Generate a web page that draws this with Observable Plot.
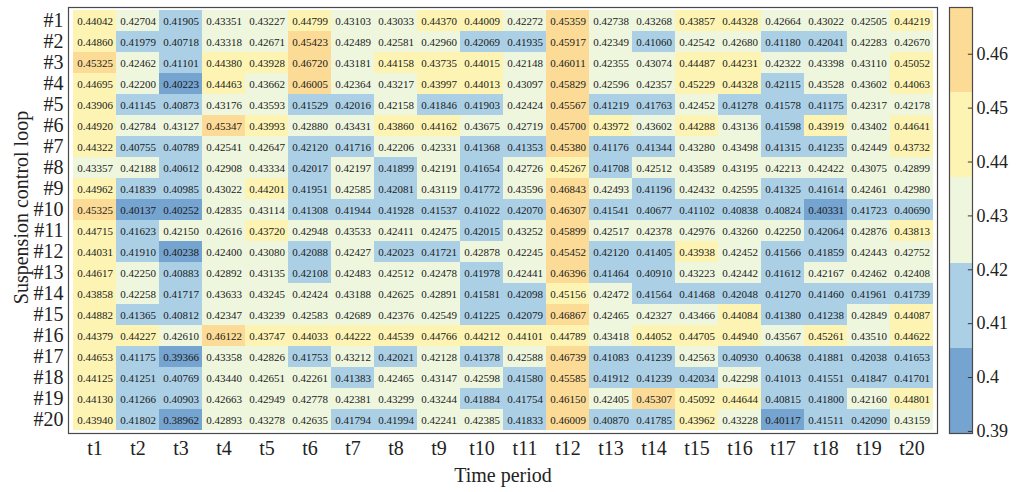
<!DOCTYPE html>
<html>
<head>
<meta charset="utf-8">
<script src="https://cdn.jsdelivr.net/npm/d3@7"></script>
<script src="https://cdn.jsdelivr.net/npm/@observablehq/plot@0.6"></script>
<style>
  html, body { margin: 0; padding: 0; background: #fff; }
  #chart { position: relative; width: 1016px; height: 492px; font-family: "Liberation Serif", "Times New Roman", serif; }
  #chart svg { position: absolute; top: 0; overflow: visible; }
</style>
</head>
<body>
<div id="chart"></div>
<script>
// Time periods (columns) and suspension control loops (rows)
const periods = ["t1","t2","t3","t4","t5","t6","t7","t8","t9","t10",
                 "t11","t12","t13","t14","t15","t16","t17","t18","t19","t20"];
const loops = ["#1","#2","#3","#4","#5","#6","#7","#8","#9","#10",
               "#11","#12","#13","#14","#15","#16","#17","#18","#19","#20"];

// One row per loop, one value per time period
const values = [
  [0.44042,0.42704,0.41905,0.43351,0.43227,0.44799,0.43103,0.43033,0.44370,0.44009,0.42272,0.45359,0.42738,0.43268,0.43857,0.44328,0.42664,0.43022,0.42505,0.44219],
  [0.44860,0.41979,0.40718,0.43318,0.42671,0.45423,0.42489,0.42581,0.42960,0.42069,0.41935,0.45917,0.42349,0.41060,0.42542,0.42680,0.41180,0.42041,0.42283,0.42670],
  [0.45325,0.42462,0.41101,0.44380,0.43928,0.46720,0.43181,0.44158,0.43735,0.44015,0.42148,0.46011,0.42355,0.43074,0.44487,0.44231,0.42322,0.43398,0.43110,0.45052],
  [0.44695,0.42200,0.40223,0.44463,0.43662,0.46005,0.42364,0.43217,0.43997,0.44013,0.43097,0.45829,0.42596,0.42357,0.45229,0.44328,0.42115,0.43528,0.43602,0.44063],
  [0.43906,0.41145,0.40873,0.43176,0.43593,0.41529,0.42016,0.42158,0.41846,0.41903,0.42424,0.45567,0.41219,0.41763,0.42452,0.41278,0.41578,0.41175,0.42317,0.42178],
  [0.44920,0.42784,0.43127,0.45347,0.43993,0.42880,0.43431,0.43860,0.44162,0.43675,0.42719,0.45700,0.43972,0.43602,0.44288,0.43136,0.41598,0.43919,0.43402,0.44641],
  [0.44322,0.40755,0.40789,0.42541,0.42647,0.42120,0.41716,0.42206,0.42331,0.41368,0.41353,0.45380,0.41176,0.41344,0.43280,0.43498,0.41315,0.41235,0.42449,0.43732],
  [0.43357,0.42188,0.40612,0.42908,0.43334,0.42017,0.42197,0.41899,0.42191,0.41654,0.42726,0.45267,0.41708,0.42512,0.43589,0.43195,0.42213,0.42422,0.43075,0.42899],
  [0.44962,0.41839,0.40985,0.43022,0.44201,0.41951,0.42585,0.42081,0.43119,0.41772,0.43596,0.46843,0.42493,0.41196,0.42432,0.42595,0.41325,0.41614,0.42461,0.42980],
  [0.45325,0.40137,0.40252,0.42835,0.43114,0.41308,0.41944,0.41928,0.41537,0.41022,0.42070,0.46307,0.41541,0.40677,0.41102,0.40838,0.40824,0.40331,0.41723,0.40690],
  [0.44715,0.41623,0.42150,0.42616,0.43720,0.42948,0.43533,0.42411,0.42475,0.42015,0.43252,0.45899,0.42517,0.42378,0.42976,0.43260,0.42250,0.42064,0.42876,0.43813],
  [0.44031,0.41910,0.40238,0.42400,0.43080,0.42088,0.42427,0.42023,0.41721,0.42878,0.42245,0.45452,0.42120,0.41405,0.43938,0.42452,0.41566,0.41859,0.42443,0.42752],
  [0.44617,0.42250,0.40883,0.42892,0.43135,0.42108,0.42483,0.42512,0.42478,0.41978,0.42441,0.46396,0.41464,0.40910,0.43223,0.42442,0.41612,0.42167,0.42462,0.42408],
  [0.43858,0.42258,0.41717,0.43633,0.43245,0.42424,0.43188,0.42625,0.42891,0.41581,0.42098,0.45156,0.42472,0.41564,0.41468,0.42048,0.41270,0.41460,0.41961,0.41739],
  [0.44882,0.41365,0.40812,0.42347,0.43239,0.42583,0.42689,0.42376,0.42549,0.41225,0.42079,0.46867,0.42465,0.42327,0.43466,0.44084,0.41380,0.41238,0.42849,0.44087],
  [0.44379,0.44227,0.42610,0.46122,0.43747,0.44033,0.44222,0.44539,0.44766,0.44212,0.44101,0.44789,0.43418,0.44052,0.44705,0.44940,0.43567,0.45261,0.43510,0.44622],
  [0.44653,0.41175,0.39366,0.43358,0.42826,0.41753,0.43212,0.42021,0.42128,0.41378,0.42588,0.46739,0.41083,0.41239,0.42563,0.40930,0.40638,0.41881,0.42038,0.41653],
  [0.44125,0.41251,0.40769,0.43440,0.42651,0.42261,0.41383,0.42465,0.43147,0.42598,0.41580,0.45585,0.41912,0.41239,0.42034,0.42298,0.41013,0.41551,0.41847,0.41701],
  [0.44130,0.41266,0.40903,0.42663,0.42949,0.42778,0.42381,0.43299,0.43244,0.41884,0.41754,0.46150,0.42405,0.45307,0.45092,0.44644,0.40815,0.41800,0.42160,0.44801],
  [0.43940,0.41802,0.38962,0.42893,0.43278,0.42635,0.41794,0.41994,0.42241,0.42385,0.41833,0.46009,0.40870,0.41785,0.43962,0.43228,0.40117,0.41511,0.42090,0.43159]
];

// Five-step colour map, low to high
const bandColors = ["#76a4d0", "#abd0e6", "#eef6de", "#fdf4b3", "#fcdb96"];
// Colour bar tick values
const colorTicks = [0.39, 0.40, 0.41, 0.42, 0.43, 0.44, 0.45, 0.46];

const FONT = "Liberation Serif, Times New Roman, serif";

const cells = loops.flatMap((loop, i) =>
  periods.map((period, j) => ({loop, period, value: values[i][j]}))
);

// Colour limits span the data; the map is split into equal steps
const [vmin, vmax] = d3.extent(cells, d => d.value);
const step = (vmax - vmin) / bandColors.length;
const thresholds = d3.range(1, bandColors.length).map(k => vmin + k * step);
const edges = [vmin, ...thresholds, vmax];
const bands = bandColors.map((color, i) => ({lo: edges[i], hi: edges[i + 1], color}));

const MT = 7, MB = 59;

const heat = Plot.plot({
  width: 940,
  height: 492,
  marginLeft: 68,
  marginRight: 3,
  marginTop: MT,
  marginBottom: MB,
  style: {fontFamily: FONT, background: "transparent", color: "#222"},
  x: {domain: periods, padding: 0, label: null},
  y: {domain: loops, padding: 0, label: null},
  color: {type: "threshold", domain: thresholds, range: bandColors},
  marks: [
    Plot.cell(cells, {x: "period", y: "loop", fill: "value", inset: 0, shapeRendering: "crispEdges"}),
    Plot.text(cells, {x: "period", y: "loop", text: d => d.value.toFixed(5), fontSize: 11, fill: "#1a1a1a"}),
    Plot.frame({stroke: "#4a4a4a", strokeWidth: 1.2}),
    Plot.axisX({tickSize: 0, tickPadding: 7, fontSize: 20, label: null}),
    Plot.axisY({tickSize: 0, tickPadding: 5, fontSize: 20, label: null}),
    Plot.text(["Time period"], {frameAnchor: "bottom", dy: 42, lineAnchor: "middle", fontSize: 20, fill: "#222"}),
    Plot.text(["Suspension control loop"], {frameAnchor: "left", dx: -47, dy: -13, rotate: -90, textAnchor: "middle", lineAnchor: "middle", fontSize: 20, fill: "#222"})
  ]
});

const bar = Plot.plot({
  width: 76,
  height: 492,
  marginLeft: 9,
  marginRight: 44,
  marginTop: MT,
  marginBottom: MB,
  style: {fontFamily: FONT, background: "transparent", color: "#222"},
  x: {domain: [0, 1], axis: null},
  y: {domain: [vmin, vmax], label: null},
  marks: [
    Plot.rect(bands, {x1: 0, x2: 1, y1: "lo", y2: "hi", fill: "color", shapeRendering: "crispEdges"}),
    Plot.ruleY(colorTicks, {x1: 0.82, x2: 1, stroke: "#333"}),
    Plot.frame({stroke: "#4a4a4a", strokeWidth: 1.2}),
    Plot.axisY(colorTicks, {anchor: "right", tickSize: 0, tickPadding: 4, fontSize: 18, label: null,
                            tickFormat: d => String(+d.toFixed(2))})
  ]
});

const root = document.getElementById("chart");
heat.style.left = "0px";
bar.style.left = "940px";
root.append(heat, bar);
</script>
</body>
</html>
